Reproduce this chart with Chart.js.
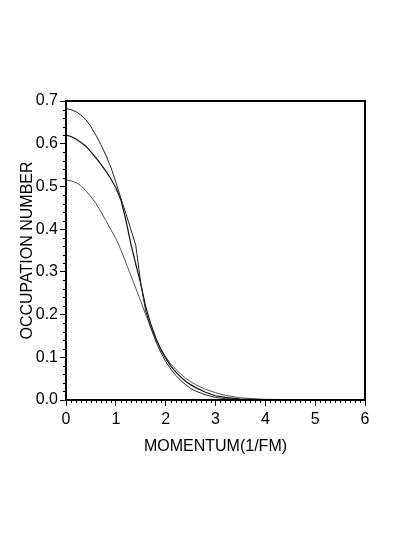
<!DOCTYPE html>
<html>
<head>
<meta charset="utf-8">
<script src="https://cdn.jsdelivr.net/npm/chart.js@4"></script>
<style>
  html, body { margin: 0; padding: 0; background: #fff; }
  #wrap { width: 409px; height: 545px; }
</style>
</head>
<body>
<div id="wrap"><canvas id="myChart" width="409" height="545"></canvas></div>
<script>
const momentum = [0, 0.1, 0.2, 0.3, 0.4, 0.5, 0.6, 0.7, 0.8, 0.9, 1.0, 1.1, 1.2, 1.3, 1.4, 1.5, 1.6, 1.7,
    1.8, 1.9, 2.0, 2.1, 2.2, 2.3, 2.4, 2.5, 2.6, 2.8, 3.0, 3.2, 3.5, 4.0, 5.0, 6.0];

const occA = [0.682, 0.680, 0.675, 0.667, 0.656, 0.640, 0.620, 0.598, 0.573, 0.545, 0.510, 0.473, 0.437,
    0.400, 0.362, 0.274, 0.208, 0.170, 0.138, 0.112, 0.090, 0.073, 0.058, 0.046, 0.036, 0.027, 0.021,
    0.012, 0.006, 0.003, 0.001, 0.0002, 0, 0];
const occB = [0.620, 0.617, 0.611, 0.603, 0.594, 0.581, 0.567, 0.552, 0.536, 0.518, 0.497, 0.469, 0.422,
    0.366, 0.318, 0.272, 0.218, 0.178, 0.146, 0.119, 0.098, 0.080, 0.066, 0.054, 0.044, 0.036, 0.029,
    0.018, 0.010, 0.006, 0.002, 0.0005, 0, 0];
const occC = [0.515, 0.513, 0.509, 0.502, 0.490, 0.476, 0.460, 0.441, 0.420, 0.399, 0.378, 0.352, 0.322,
    0.292, 0.262, 0.231, 0.200, 0.170, 0.143, 0.120, 0.101, 0.085, 0.072, 0.061, 0.051, 0.043, 0.036,
    0.025, 0.017, 0.011, 0.005, 0.0015, 0.0002, 0];

const xTicks = [0, 1, 2, 3, 4, 5, 6];
const yTicks = [0.0, 0.1, 0.2, 0.3, 0.4, 0.5, 0.6, 0.7];

const toPoints = (ys) => momentum.map((x, i) => ({ x: x, y: ys[i] }));

const font = { family: "'Liberation Sans', Arial, sans-serif", size: 16 };

// frame round the plot + small minor ticks
const framePlugin = {
    id: 'frame',
    afterDraw(chart) {
        const c = chart.ctx;
        const a = chart.chartArea;
        const xs = chart.scales.x;
        const ys = chart.scales.y;
        c.save();
        c.strokeStyle = '#000';
        c.lineWidth = 1;
        c.beginPath();
        for (let v = 0; v <= 60; v++) {
            if (v % 10 === 0) continue;
            const px = Math.round(xs.getPixelForValue(v / 10)) + 0.5;
            c.moveTo(px, a.bottom);
            c.lineTo(px, a.bottom + 3);
        }
        for (let v = 0; v <= 35; v++) {
            if (v % 5 === 0) continue;
            const py = Math.round(ys.getPixelForValue(v * 0.02)) + 0.5;
            c.moveTo(a.left, py);
            c.lineTo(a.left - 3, py);
        }
        c.stroke();
        c.lineWidth = 2;
        c.strokeRect(a.left, a.top, a.right - a.left, a.bottom - a.top);
        c.restore();
    }
};

const data = {
    datasets: [
        { data: toPoints(occA), borderColor: '#222', borderWidth: 1 },
        { data: toPoints(occB), borderColor: '#111', borderWidth: 1.2 },
        { data: toPoints(occC), borderColor: '#555', borderWidth: 1 }
    ]
};

const config = {
    type: 'line',
    data: data,
    options: {
        responsive: false,
        animation: false,
        layout: { padding: { top: 101, right: 44, bottom: 85, left: 0 } },
        elements: { point: { radius: 0 }, line: { tension: 0 } },
        plugins: { legend: { display: false }, tooltip: { enabled: false } },
        scales: {
            x: {
                type: 'linear',
                min: 0,
                max: 6,
                afterBuildTicks: (s) => { s.ticks = xTicks.map(v => ({ value: v })); },
                afterFit: (s) => { s.height = 60; },
                grid: { drawOnChartArea: false, tickLength: 6, color: '#000' },
                border: { color: '#000', width: 2 },
                ticks: { color: '#000', font: font, padding: 4, callback: (v) => String(v) },
                title: { display: true, text: 'MOMENTUM(1/FM)', color: '#000', font: font, padding: { top: 8 } }
            },
            y: {
                min: 0,
                max: 0.7,
                afterBuildTicks: (s) => { s.ticks = yTicks.map(v => ({ value: v })); },
                afterFit: (s) => { s.width = 66; },
                grid: { drawOnChartArea: false, tickLength: 6, color: '#000' },
                border: { color: '#000', width: 2 },
                ticks: { color: '#000', font: font, padding: 2, callback: (v) => v.toFixed(1) },
                title: { display: true, text: 'OCCUPATION NUMBER', color: '#000', font: font, padding: { top: 18, bottom: 0 } }
            }
        }
    },
    plugins: [framePlugin]
};

const myChart = new Chart(document.getElementById('myChart').getContext('2d'), config);
</script>
</body>
</html>
